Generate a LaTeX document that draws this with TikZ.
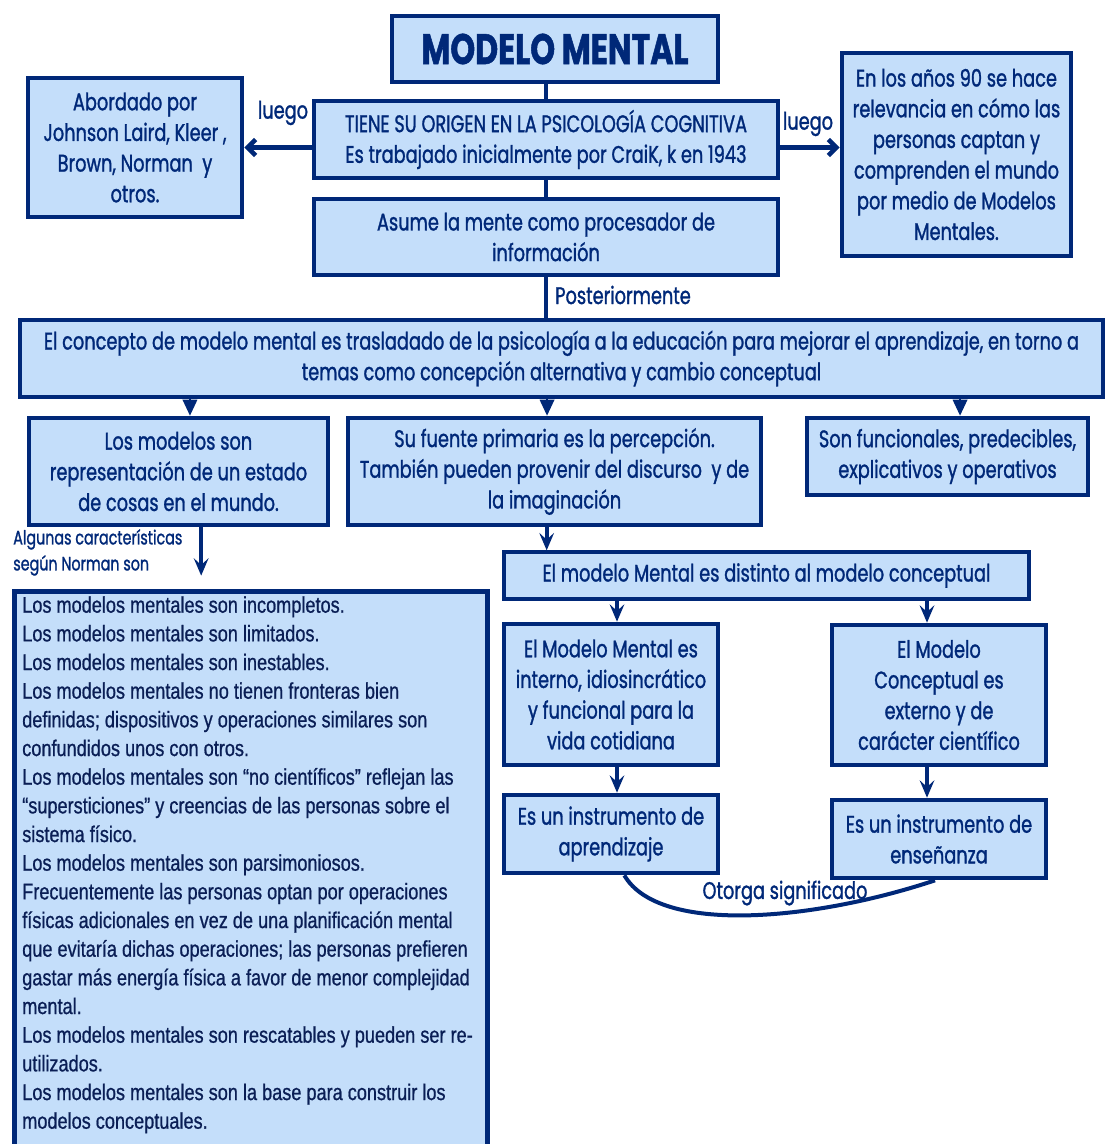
\documentclass[tikz,border=0pt]{standalone}
\usepackage{fontspec}
\setmainfont{Poppins}[FakeStretch=0.74, FakeBold=1.2]
\newfontfamily\listfont{Liberation Sans}[FakeStretch=0.8, FakeBold=0.8]
\usetikzlibrary{arrows.meta}
\definecolor{navy}{RGB}{0,40,120}
\definecolor{listnavy}{RGB}{10,30,85}
\definecolor{boxblue}{RGB}{196,222,250}
\newdimen\px
\px=0.75pt

\begin{document}
\begin{tikzpicture}[x=\px, y=-\px,
	mapbox/.style={rectangle, draw=navy, fill=boxblue, line width=3.5pt, text=navy, align=center, inner sep=0pt, font=\fontsize{18}{23}\selectfont},
	linklabel/.style={text=navy, inner sep=0pt, font=\fontsize{18}{23}\selectfont},
	fillarrow/.style={-{Triangle[width=11pt,length=12pt]}, draw=navy, line width=1pt},
	veearrow/.style={-{Stealth[width=11pt,length=13pt,inset=5pt]}, draw=navy, line width=3pt},
	openarrow/.style={-{Straight Barb[width=12pt,length=6pt]}, draw=navy, line width=3.5pt},
	]
	\path[use as bounding box, clip] (0,0) rectangle (1108,1144);
	%Nodes
	\node[mapbox, minimum width=326\px, minimum height=66\px, font=\bfseries\fontsize{32}{40}\selectfont] (titulo) at (555,49) {MODELO MENTAL};
	%
	\node[mapbox, minimum width=464\px, minimum height=77\px] (origen) at (546,139.5) {TIENE SU ORIGEN EN LA PSICOLOGÍA COGNITIVA\\Es trabajado inicialmente por CraiK, k en 1943};
	%
	\node[mapbox, minimum width=214\px, minimum height=139\px] (autores) at (135,147.5) {Abordado por\\Johnson Laird, Kleer ,\\Brown, Norman \ y\\otros.};
	%
	\node[mapbox, minimum width=229\px, minimum height=203\px] (noventa) at (956.5,154.5) {En los años 90 se hace\\relevancia en cómo las\\personas captan y\\comprenden el mundo\\por medio de Modelos\\Mentales.};
	%
	\node[mapbox, minimum width=464\px, minimum height=76\px] (asume) at (546,237) {Asume la mente como procesador de\\información};
	%
	\node[mapbox, minimum width=1083\px, minimum height=77\px] (concepto) at (561.5,358.5) {El concepto de modelo mental es trasladado de la psicología a la educación para mejorar el aprendizaje, en torno a\\temas como concepción alternativa y cambio conceptual};
	%
	\node[mapbox, minimum width=299\px, minimum height=107\px] (estado) at (178.5,471.5) {Los modelos son\\representación de un estado\\de cosas en el mundo.};
	%
	\node[mapbox, minimum width=413\px, minimum height=107\px] (fuente) at (554.5,471.5) {Su fuente primaria es la percepción.\\También pueden provenir del discurso \ y de\\la imaginación};
	%
	\node[mapbox, minimum width=281\px, minimum height=77\px] (funcion) at (947.5,456.5) {Son funcionales, predecibles,\\explicativos y operativos};
	%
	\node[mapbox, minimum width=525\px, minimum height=47\px] (distinto) at (766.5,575.5) {El modelo Mental es distinto al modelo conceptual};
	%
	\node[mapbox, minimum width=214\px, minimum height=141\px] (interno) at (611,694.5) {El Modelo Mental es\\interno, idiosincrático\\y funcional para la\\vida cotidiana};
	%
	\node[mapbox, minimum width=214\px, minimum height=140\px] (externo) at (939,695) {El Modelo\\Conceptual es\\externo y de\\carácter científico};
	%
	\node[mapbox, minimum width=214\px, minimum height=78\px] (aprender) at (611,834) {Es un instrumento de\\aprendizaje};
	%
	\node[mapbox, minimum width=214\px, minimum height=78\px] (ensenar) at (939,839) {Es un instrumento de\\enseñanza};
	%
	\node[mapbox, minimum width=473\px, minimum height=600\px, anchor=north west] (lista) at (12,589) {};
	\node[text=listnavy, align=left, anchor=north west, inner sep=0pt, font=\listfont\fontsize{17}{21.5}\selectfont] (caracteristicas) at (22,596) {Los modelos mentales son incompletos.\\
	Los modelos mentales son limitados.\\
	Los modelos mentales son inestables.\\
	Los modelos mentales no tienen fronteras bien\\
	definidas; dispositivos y operaciones similares son\\
	confundidos unos con otros.\\
	Los modelos mentales son “no científicos” reflejan las\\
	“supersticiones” y creencias de las personas sobre el\\
	sistema físico.\\
	Los modelos mentales son parsimoniosos.\\
	Frecuentemente las personas optan por operaciones\\
	físicas adicionales en vez de una planificación mental\\
	que evitaría dichas operaciones; las personas prefieren\\
	gastar más energía física a favor de menor complejidad\\
	mental.\\
	Los modelos mentales son rescatables y pueden ser re-\\
	utilizados.\\
	Los modelos mentales son la base para construir los\\
	modelos conceptuales.};
	%
	%Labels
	\node[linklabel] (luegoizq) at (283,113) {luego};
	\node[linklabel] (luegoder) at (808,124) {luego};
	\node[linklabel, anchor=west] (despues) at (555,295) {Posteriormente};
	\node[linklabel, align=left, anchor=north west, font=\fontsize{14.5}{19.5}\selectfont] (segun) at (13,529) {Algunas características\\según Norman son};
	\node[linklabel] (otorga) at (785,893) {Otorga significado};
	%
	%Connectors
	\draw[navy, line width=3pt] (origen.north) -- (origen.north |- titulo.south);
	\draw[navy, line width=3pt] (origen.south) -- (asume.north);
	\draw[navy, line width=3pt] (asume.south) -- (asume.south |- concepto.north);
	\draw[openarrow] ([yshift=-6pt]origen.west) -- ([yshift=-6pt]origen.west -| autores.east);
	\draw[openarrow] ([yshift=-6pt]origen.east) -- ([yshift=-6pt]origen.east -| noventa.west);
	%
	\draw[fillarrow] ([xshift=8.6pt]estado.north |- concepto.south) -- ([xshift=8.6pt]estado.north);
	\draw[fillarrow] ([xshift=-5.6pt]fuente.north |- concepto.south) -- ([xshift=-5.6pt]fuente.north);
	\draw[fillarrow] ([xshift=9.4pt]funcion.north |- concepto.south) -- ([xshift=9.4pt]funcion.north);
	%
	\draw[veearrow, shorten >=10pt] ([xshift=17pt]estado.south) -- ([xshift=17pt]estado.south |- lista.north);
	\draw[veearrow] (fuente.south -| distinto.west) ++(45,0) -- ++(0,23);
	\draw[veearrow] ([xshift=4.5pt]distinto.south -| interno.north) -- ([xshift=4.5pt]interno.north);
	\draw[veearrow] ([xshift=-9pt]distinto.south -| externo.north) -- ([xshift=-9pt]externo.north);
	\draw[veearrow] ([xshift=4.5pt]interno.south) -- ([xshift=4.5pt]aprender.north);
	\draw[veearrow] ([xshift=-9pt]externo.south) -- ([xshift=-9pt]externo.south |- ensenar.north);
	%
	\draw[navy, line width=3pt] ([xshift=10pt]aprender.south) .. controls +(35,60) and +(-120,40) .. ([xshift=-3pt]ensenar.south);
\end{tikzpicture}
\end{document}
